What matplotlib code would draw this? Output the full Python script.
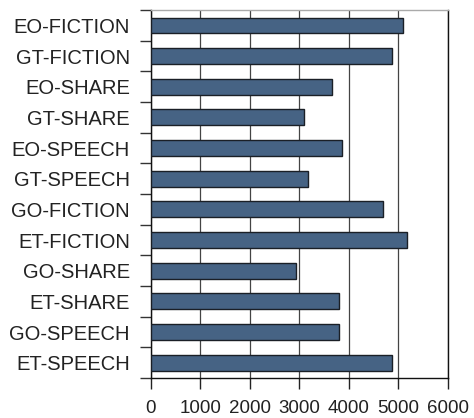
import matplotlib
matplotlib.use("Agg")
import matplotlib.pyplot as plt
import numpy as np

categories = ["EO-FICTION", "GT-FICTION", "EO-SHARE", "GT-SHARE", "EO-SPEECH",
              "GT-SPEECH", "GO-FICTION", "ET-FICTION", "GO-SHARE", "ET-SHARE",
              "GO-SPEECH", "ET-SPEECH"]
values = [5085, 4865, 3650, 3100, 3855, 3180, 4695, 5180, 2935, 3800, 3800, 4865]
x_ticks = [0, 1000, 2000, 3000, 4000, 5000, 6000]

plt.rcParams["font.family"] = ["Liberation Sans", "DejaVu Sans"]

fig = plt.figure(figsize=(4.74, 4.18), dpi=100)
ax = fig.add_axes([0.318, 0.0957, 0.627, 0.880])

n = len(categories)
ypos = np.arange(n)
ax.barh(ypos, values, height=0.52, color="#466384", edgecolor="#1a1f26",
        linewidth=1.0, zorder=3)

ax.set_xlim(0, 6000)
ax.set_ylim(n - 0.5, -0.5)

ax.set_xticks(x_ticks)
ax.set_xticklabels([str(t) for t in x_ticks], fontsize=13.5, color="#222222")
ax.set_yticks(ypos)
ax.set_yticklabels(categories, fontsize=14.5, color="#222222")
ax.set_yticks(np.arange(-0.5, n, 1.0), minor=True)

ax.tick_params(axis="y", which="major", length=0, pad=15)
ax.tick_params(axis="y", which="minor", length=8, width=1.0, color="#333333")
ax.tick_params(axis="x", which="major", length=8, width=1.0, color="#222222",
               pad=8)

ax.grid(axis="x", color="#444444", linewidth=0.9, zorder=1)
ax.set_axisbelow(True)

for side in ("left", "right", "bottom"):
    ax.spines[side].set_color("#111111")
    ax.spines[side].set_linewidth(1.0)
ax.spines["top"].set_color("#aaaaaa")
ax.spines["top"].set_linewidth(1.0)

fig.savefig("out.png", dpi=100)
